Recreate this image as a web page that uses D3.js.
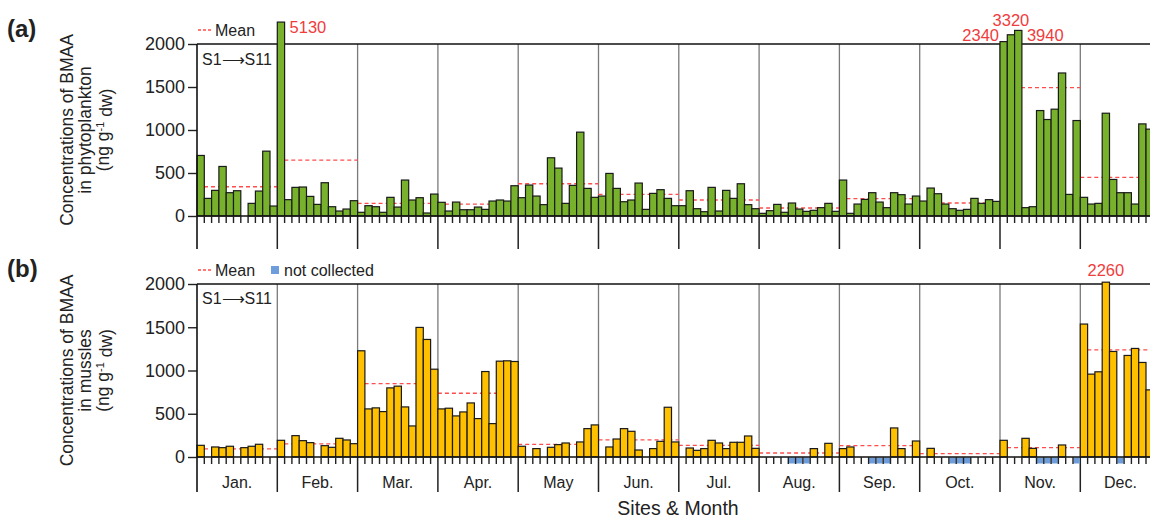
<!DOCTYPE html>
<html>
<head>
<meta charset="utf-8">
<script src="https://cdn.jsdelivr.net/npm/d3@7"></script>
<style>
  body { margin: 0; background: #fff; }
  text { font-family: "Liberation Sans", Arial, sans-serif; fill: #222; }
</style>
</head>
<body>
<svg id="chart" width="1150" height="519"></svg>
<script>
// months on the x axis, 11 sites (S1..S11) per month
var monthNames = ["Jan.", "Feb.", "Mar.", "Apr.", "May", "Jun.", "Jul.", "Aug.", "Sep.", "Oct.", "Nov.", "Dec."];
var yTicks = [0, 500, 1000, 1500, 2000];

// (a) BMAA in phytoplankton, ng/g dw, one row per month
var phytoByMonth = [
  [704, 205, 298, 576, 271, 294, 0, 147, 290, 754, 116],
  [5130, 190, 333, 337, 228, 135, 387, 108, 58, 81, 178],
  [43, 120, 108, 43, 217, 104, 418, 186, 213, 35, 255],
  [159, 58, 162, 73, 73, 104, 77, 174, 186, 174, 352],
  [213, 360, 232, 132, 677, 557, 147, 356, 975, 321, 217],
  [232, 495, 321, 166, 186, 383, 77, 263, 306, 205, 120],
  [120, 294, 85, 50, 333, 58, 298, 205, 375, 132, 85],
  [31, 62, 135, 43, 151, 81, 54, 66, 97, 147, 54],
  [418, 31, 139, 193, 271, 162, 97, 271, 248, 139, 232],
  [174, 325, 259, 139, 85, 66, 77, 205, 147, 190, 170],
  [2340, 3320, 3940, 97, 108, 1226, 1122, 1242, 1663, 251, 1110],
  [217, 139, 147, 1195, 425, 271, 271, 139, 1071, 1010, 60]
];
var phytoMean = [340, 650, 147, 139, 375, 251, 186, 93, 201, 151, 1493, 449];

// (b) BMAA in mussels, null = not collected
var musselByMonth = [
  [135, 0, 116, 108, 124, 0, 108, 124, 147, 0, 0],
  [193, 0, 247, 189, 166, 0, 131, 112, 216, 197, 154],
  [1228, 556, 568, 525, 799, 819, 579, 359, 1498, 1359, 1015],
  [556, 564, 475, 521, 625, 444, 988, 386, 1108, 1112, 1104],
  [124, 0, 97, 0, 112, 143, 162, 0, 174, 328, 371],
  [0, 116, 208, 328, 297, 81, 0, 97, 181, 575, 174],
  [0, 104, 77, 97, 193, 162, 97, 170, 170, 243, 100],
  [0, 0, 0, 0, null, null, null, 97, 0, 158, 0],
  [97, 116, 0, 0, null, null, null, 336, 97, 0, 185],
  [0, 100, 0, 0, null, null, null, 0, 0, 0, 0],
  [193, 0, 0, 216, 100, null, null, null, 139, 0, null],
  [1537, 958, 985, 2260, 1220, null, 1174, 1255, 1093, 776, 1300]
];
var musselMean = [93, 151, 849, 737, 147, 197, 135, 46, 131, 39, 108, 1239];

var svg = d3.select("#chart");
svg.append("rect").attr("width", 1150).attr("height", 519).attr("fill", "#fff");

var x0 = 197, monthW = 80.3;
var nSites = 11;
var x = d3.scaleBand().domain(d3.range(12 * nSites)).range([x0, x0 + 12 * monthW]).padding(0);
var xm = d3.scaleBand().domain(monthNames).range([x0, x0 + 12 * monthW]).padding(0);

var panels = [
  {data: phytoByMonth, means: phytoMean, top: 44, zero: 216, bottom: 249, fill: "#78b22c",
   letter: "(a)", letterY: 37, legendY: 30, s1Y: 65,
   title: ["Concentrations of BMAA", "in phytoplankton", "(ng g", "-1", " dw)"],
   notes: {11: ["start", 33], 110: ["end", 41], 111: ["middle", 26], 112: ["start", 41]}},
  {data: musselByMonth, means: musselMean, top: 284, zero: 457, bottom: 492, fill: "#ffc000",
   letter: "(b)", letterY: 277, legendY: 270, s1Y: 304,
   title: ["Concentrations of BMAA", "in mussles", "(ng g", "-1", " dw)"],
   notes: {124: ["middle", 276]}}
];

panels.forEach(function(p, pi) {
  var flat = [];
  p.data.forEach(function(row, m) {
    row.forEach(function(v, s) { flat.push({i: m * nSites + s, m: m, v: v}); });
  });

  // values above 2000 are squeezed into a short strip over the frame
  var y = d3.scaleLinear().domain([0, 2000, 6000]).range([p.zero, p.top, p.top - 28]);
  var g = svg.append("g");

  // month separators
  g.selectAll(".sep").data(monthNames.slice(1)).enter().append("line")
    .attr("x1", function(d) { return xm(d); }).attr("x2", function(d) { return xm(d); })
    .attr("y1", p.top).attr("y2", p.zero)
    .attr("stroke", "#7a7a7a").attr("stroke-width", 1.3);
  g.selectAll(".sep2").data(monthNames.slice(1)).enter().append("line")
    .attr("x1", function(d) { return xm(d); }).attr("x2", function(d) { return xm(d); })
    .attr("y1", p.zero).attr("y2", p.bottom)
    .attr("stroke", "#222").attr("stroke-width", 1.5);

  // top frame
  g.append("line").attr("x1", x0).attr("x2", 1150).attr("y1", p.top).attr("y2", p.top)
    .attr("stroke", "#111").attr("stroke-width", 1.5);

  // mean lines (behind the bars)
  g.selectAll(".mean").data(p.means).enter().append("line")
    .attr("x1", function(d, m) { return xm(monthNames[m]); })
    .attr("x2", function(d, m) { return xm(monthNames[m]) + xm.bandwidth(); })
    .attr("y1", function(d) { return y(d); }).attr("y2", function(d) { return y(d); })
    .attr("stroke", "#ff4d4d").attr("stroke-width", 1.3).attr("stroke-dasharray", "4,3");

  // bars
  g.selectAll(".bar").data(flat.filter(function(d) { return d.v > 0; })).enter().append("rect")
    .attr("x", function(d) { return x(d.i); })
    .attr("width", x.bandwidth())
    .attr("y", function(d) { return y(d.v); })
    .attr("height", function(d) { return p.zero - y(d.v); })
    .attr("fill", p.fill).attr("stroke", "#1a1a1a").attr("stroke-width", 1.2);

  // not collected
  g.selectAll(".nc").data(flat.filter(function(d) { return d.v === null; })).enter().append("rect")
    .attr("x", function(d) { return x(d.i) + 0.5; })
    .attr("width", x.bandwidth() - 1)
    .attr("y", p.zero + 0.5).attr("height", 6)
    .attr("fill", "#6e9ddb");

  // x axis baseline and site ticks
  g.append("line").attr("x1", x0).attr("x2", 1150).attr("y1", p.zero).attr("y2", p.zero)
    .attr("stroke", "#111").attr("stroke-width", 1.6);
  g.selectAll(".tk").data(d3.range(12 * nSites).filter(function(i) { return i % nSites !== 0; }))
    .enter().append("line")
    .attr("x1", function(i) { return x(i); }).attr("x2", function(i) { return x(i); })
    .attr("y1", p.zero).attr("y2", p.zero + 7)
    .attr("stroke", "#222").attr("stroke-width", 1.4);

  // y axis
  var yAxis = g.append("g").attr("transform", "translate(" + x0 + ",0)")
    .call(d3.axisLeft(y).tickValues(yTicks).tickFormat(d3.format("d")).tickSize(9).tickPadding(3));
  yAxis.select(".domain").remove();
  yAxis.selectAll("line").attr("stroke", "#222").attr("stroke-width", 1.4);
  yAxis.selectAll("text").style("font-size", "18px").attr("fill", "#222");
  g.append("line").attr("x1", x0).attr("x2", x0).attr("y1", p.top).attr("y2", p.bottom)
    .attr("stroke", "#111").attr("stroke-width", 1.6);

  // red labels for clipped bars
  flat.filter(function(d) { return p.notes[d.i]; }).forEach(function(d) {
    var n = p.notes[d.i];
    var tx = n[0] === "start" ? x(d.i) + x.bandwidth() + 5
           : n[0] === "end" ? x(d.i) - 1 : x(d.i) + x.bandwidth() / 2;
    g.append("text").attr("x", tx).attr("y", n[1]).attr("text-anchor", n[0])
      .style("font-size", "16.5px").style("fill", "#f03c3c").text(d.v);
  });

  // panel letter
  g.append("text").attr("x", 7).attr("y", p.letterY)
    .style("font-size", "24px").style("font-weight", "bold").text(p.letter);

  // y title, three lines
  var cy = (p.top + p.zero) / 2;
  [67, 85].forEach(function(cx, k) {
    g.append("text").attr("transform", "translate(" + cx + "," + cy + ") rotate(-90)")
      .attr("text-anchor", "middle").attr("dy", "0.35em")
      .style("font-size", "17.5px").text(p.title[k]);
  });
  var t3 = g.append("text").attr("transform", "translate(103," + cy + ") rotate(-90)")
    .attr("text-anchor", "middle").attr("dy", "0.35em").style("font-size", "17.5px");
  t3.append("tspan").text(p.title[2]);
  t3.append("tspan").attr("dy", "-0.45em").style("font-size", "11px").text(p.title[3]);
  t3.append("tspan").attr("dy", "0.45em").text(p.title[4]);

  // legend
  g.append("line").attr("x1", 198).attr("x2", 213).attr("y1", p.legendY).attr("y2", p.legendY)
    .attr("stroke", "#ff4d4d").attr("stroke-width", 1.3).attr("stroke-dasharray", "3,2");
  g.append("text").attr("x", 215).attr("y", p.legendY + 6).style("font-size", "16px").text("Mean");
  if (pi === 1) {
    g.append("rect").attr("x", 271).attr("y", p.legendY - 4).attr("width", 8).attr("height", 8)
      .attr("fill", "#6e9ddb");
    g.append("text").attr("x", 284).attr("y", p.legendY + 6).style("font-size", "16px").text("not collected");
  }
  g.append("text").attr("x", 202).attr("y", p.s1Y).style("font-size", "16px").text("S1\u27F6S11");
});

// month labels and axis title
svg.selectAll(".mlab").data(monthNames).enter().append("text")
  .attr("x", function(d) { return xm(d) + xm.bandwidth() / 2; })
  .attr("y", 488).attr("text-anchor", "middle").style("font-size", "16px")
  .text(function(d) { return d; });
svg.append("text").attr("x", 678).attr("y", 515).attr("text-anchor", "middle")
  .style("font-size", "19.5px").text("Sites & Month");
</script>
</body>
</html>
